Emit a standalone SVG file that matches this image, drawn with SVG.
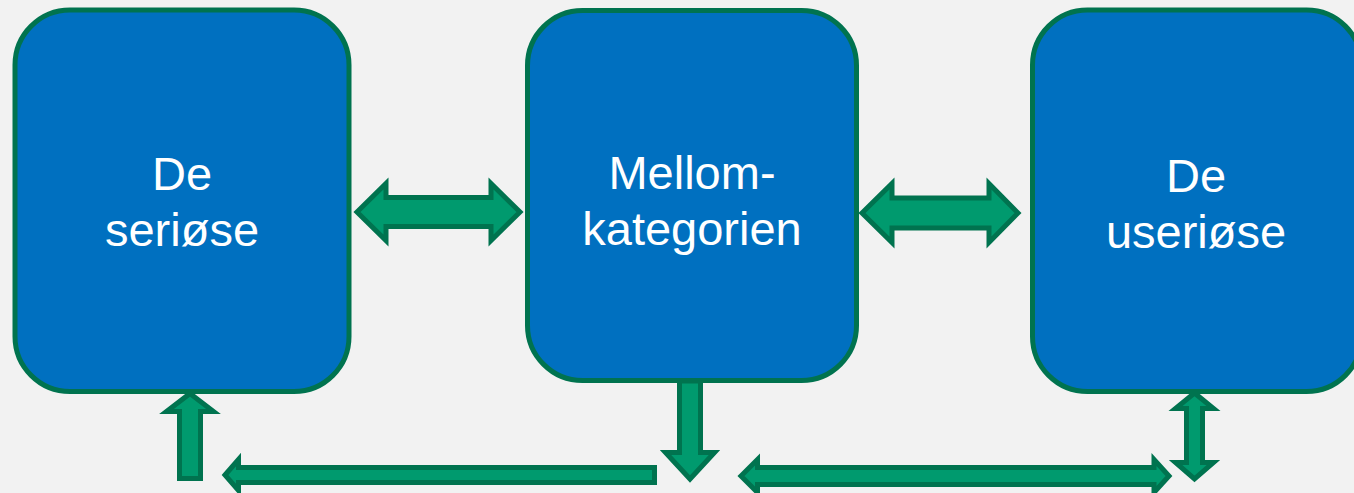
<svg xmlns="http://www.w3.org/2000/svg" width="1354" height="493" viewBox="0 0 1354 493">
<style>
.box{fill:#0070C0;stroke:#00734F;stroke-width:5}
.lbl{font-family:"Liberation Sans",Arial,sans-serif;font-size:47px;fill:#FFFFFF;text-anchor:middle}
.arr{fill:#009A6E;stroke:#00734F;stroke-width:5;stroke-linejoin:miter}
</style>
<rect width="1354" height="493" fill="#F2F2F2"/>
<g id="connectors">
<polygon class="arr" points="357,212 386,183.5 386,197.5 491,197.5 491,183.5 520,212 491,240.5 491,226.5 386,226.5 386,240.5"/>
<polygon class="arr" points="862,213 892,183.5 892,198 989,198 989,183.5 1018,213 989,242.5 989,228 892,228 892,242.5"/>
<polygon class="arr" points="190,393.5 213.5,411.5 200.5,411.5 200.5,478.5 179.5,478.5 179.5,411.5 166.5,411.5"/>
<polygon class="arr" stroke-linejoin="round" points="225,475 238.5,459.5 238.5,467.5 654.5,467.5 654.5,482.5 238.5,482.5 238.5,490.5"/>
<polygon class="arr" points="679.5,381 700.5,381 700.5,452.5 714.5,452.5 690,479 665.5,452.5 679.5,452.5"/>
<polygon class="arr" points="741,476 757.5,459.5 757.5,467.5 1154,467.5 1154,459.5 1169,476 1154,492.5 1154,484.5 757.5,484.5 757.5,492.5"/>
<polygon class="arr" points="1194.5,393 1213.5,408.5 1202.5,408.5 1202.5,462.5 1213.5,462.5 1194.5,479 1175.5,462.5 1186.5,462.5 1186.5,408.5 1175.5,408.5"/>
</g>
<g id="node-serious">
<rect class="box" x="15" y="10" width="334" height="381.5" rx="55" ry="55"/>
<text class="lbl" x="182" y="190">De</text>
<text class="lbl" x="182" y="246">seriøse</text>
</g>
<g id="node-middle">
<rect class="box" x="527.5" y="10.5" width="329" height="370" rx="55" ry="55"/>
<text class="lbl" x="692" y="189">Mellom-</text>
<text class="lbl" x="692" y="245">kategorien</text>
</g>
<g id="node-unserious">
<rect class="box" x="1032.5" y="10" width="329" height="381.5" rx="55" ry="55"/>
<text class="lbl" x="1196" y="192">De</text>
<text class="lbl" x="1196" y="248">useriøse</text>
</g>
</svg>
